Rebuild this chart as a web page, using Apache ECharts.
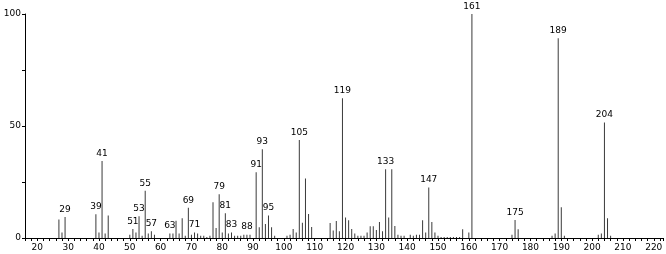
<!DOCTYPE html>
<html>
<head>
<meta charset="utf-8">
<script src="https://cdn.jsdelivr.net/npm/echarts@6/dist/echarts.min.js"></script>
<style>
  html, body { margin: 0; padding: 0; background: #fff; }
  #chart { width: 666px; height: 254px; }
</style>
</head>
<body>
<div id="chart"></div>
<script>
// m/z values and relative intensities
var masses = [27, 28, 29, 39, 40, 41, 42, 43, 50, 51, 52, 53, 54, 55, 56, 57, 58,
  63, 64, 65, 66, 67, 68, 69, 70, 71, 72, 73, 74, 75, 76, 77, 78, 79, 80, 81, 82, 83,
  84, 85, 86, 87, 88, 89, 91, 92, 93, 94, 95, 96, 97, 101, 102, 103, 104, 105, 106,
  107, 108, 109, 115, 116, 117, 118, 119, 120, 121, 122, 123, 124, 125, 126, 127,
  128, 129, 130, 131, 132, 133, 134, 135, 136, 137, 138, 139, 141, 142, 143, 144,
  145, 146, 147, 148, 149, 150, 151, 152, 153, 154, 155, 156, 157, 158, 160, 161,
  174, 175, 176, 187, 188, 189, 190, 191, 202, 203, 204, 205, 206];
var intensities = [8.3, 2.4, 9.4, 10.6, 2.5, 34.4, 2, 10, 1.5, 4, 2.4, 9.7, 1, 21.1, 2, 3, 1.5,
  2, 2, 7.7, 2, 8.8, 1, 13.5, 1.5, 2.5, 2, 1, 1, 0.5, 1, 16, 4.5, 19.5, 2.5, 11, 2, 2.5,
  1, 1, 1, 1.5, 1.5, 1.5, 29.4, 4.8, 39.6, 6.2, 10.1, 4.8, 1, 1, 1.5, 4, 2.5, 43.8, 6.8,
  26.6, 10.7, 4.9, 6.7, 3.3, 7.6, 3, 62.4, 9.2, 7.9, 4, 2, 1, 1, 1, 2.5,
  5.2, 5.3, 3.6, 7.1, 3, 30.7, 9.2, 30.7, 5.4, 1.5, 1, 1, 1.5, 1, 1.5, 1.5,
  7.9, 2.5, 22.6, 7.1, 2.5, 1, 0.5, 0.5, 0.5, 0.5, 0.5, 0.5, 0.5, 3.9, 2.5, 100,
  1.5, 8, 3.9, 1, 2, 89.2, 13.7, 1, 1.5, 2, 51.6, 8.8, 1];
var labeled = [29, 39, 41, 51, 53, 55, 57, 63, 69, 71, 79, 81, 83, 88, 91, 93, 95,
  105, 119, 133, 147, 161, 175, 189, 204];
var xTickLabels = [20, 30, 40, 50, 60, 70, 80, 90, 100, 110, 120, 130, 140, 150, 160,
  170, 180, 190, 200, 210, 220];
var yTickLabels = [0, 50, 100];

var chart = echarts.init(document.getElementById('chart'), null, { renderer: 'canvas' });

var barData = masses.map(function (m, i) {
  var item = { value: [m, intensities[i]] };
  if (labeled.indexOf(m) >= 0) {
    item.label = { show: true };
  }
  return item;
});

var option = {
  animation: false,
  textStyle: { fontFamily: 'DejaVu Sans' },
  grid: { left: 25, right: 3, top: 14, bottom: 16 },
  xAxis: {
    type: 'value',
    min: 16,
    max: 223,
    interval: 2,
    splitLine: { show: false },
    axisLine: { lineStyle: { color: '#000', width: 1 } },
    axisTick: { length: 3, lineStyle: { color: '#000' } },
    axisLabel: {
      color: '#000',
      fontSize: 9,
      margin: 5,
      formatter: function (v) {
        return xTickLabels.indexOf(v) >= 0 ? String(v) : '';
      }
    }
  },
  yAxis: {
    type: 'value',
    min: 0,
    max: 100,
    interval: 25,
    splitLine: { show: false },
    axisLine: { show: true, lineStyle: { color: '#000', width: 1 } },
    axisTick: { show: true, length: 3, lineStyle: { color: '#000' } },
    axisLabel: {
      color: '#000',
      fontSize: 9,
      margin: 4,
      formatter: function (v) {
        return yTickLabels.indexOf(v) >= 0 ? String(v) : '';
      }
    }
  },
  series: [
    {
      type: 'bar',
      barWidth: 1,
      itemStyle: { color: '#3a3a3a' },
      label: {
        show: false,
        position: 'top',
        distance: 3,
        color: '#000',
        fontSize: 9,
        formatter: function (p) { return p.value[0]; }
      },
      data: barData
    }
  ]
};

chart.setOption(option);
</script>
</body>
</html>
